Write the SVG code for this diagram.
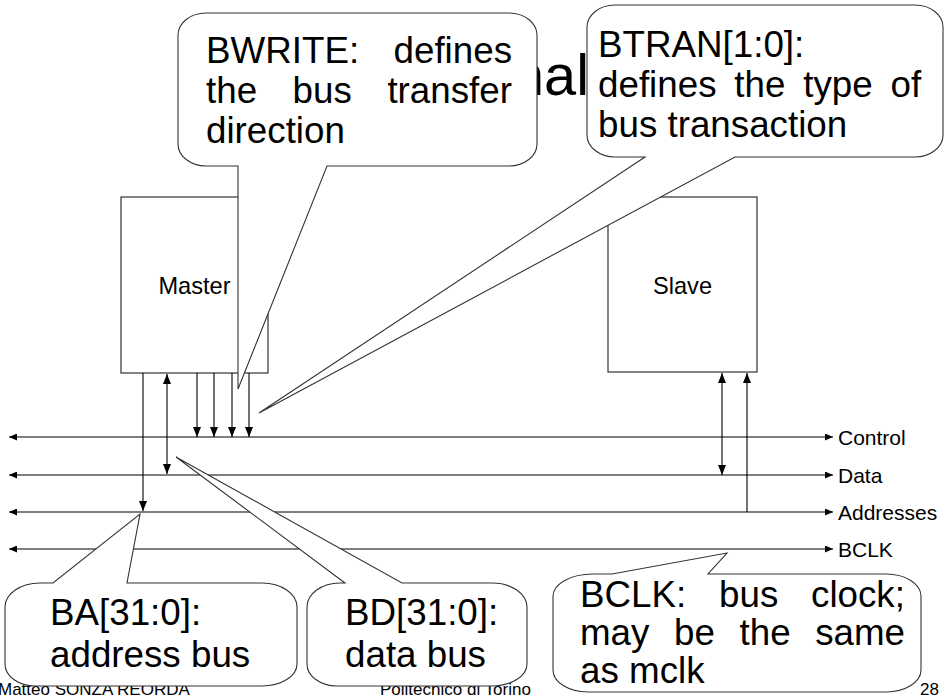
<svg xmlns="http://www.w3.org/2000/svg" width="945" height="697" viewBox="0 0 945 697">
<defs>
<style>
text{font-family:"Liberation Sans",Arial,sans-serif;fill:#000}
.box{fill:#fff;stroke:#333;stroke-width:1.2}
.co{fill:#fff;stroke:#333;stroke-width:1.1}
.ct{font-size:36.75px}
.lbl{font-size:23.6px}
.bus{font-size:21px}
.ft{font-size:17px}
.ln{fill:none;stroke:#000;stroke-width:1.1}
.bl{fill:none;stroke:#555;stroke-width:1.5}
</style>
<marker id="ah" viewBox="0 0 10 8" refX="10" refY="4" markerWidth="10" markerHeight="8" markerUnits="userSpaceOnUse" orient="auto-start-reverse"><path d="M0,0 L10,4 L0,8 z" fill="#000"/></marker>
<marker id="ahs" viewBox="0 0 8 7" refX="8" refY="3.5" markerWidth="8" markerHeight="7" markerUnits="userSpaceOnUse" orient="auto-start-reverse"><path d="M0,0 L8,3.5 L0,7 z" fill="#000"/></marker>
</defs>
<rect width="945" height="697" fill="#fff"/>
<text id="title" x="512" y="95" style="font-size:57.7px">nal</text>
<g id="footer">
<text class="ft" x="-2" y="695">Matteo SONZA REORDA</text>
<text class="ft" x="380" y="695">Politecnico di Torino</text>
<text class="ft" x="920" y="695">28</text>
</g>
<g id="master"><rect class="box" x="121" y="197" width="147" height="176"/><text class="lbl" x="194.5" y="294" text-anchor="middle">Master</text></g>
<g id="slave"><rect class="box" x="608" y="197" width="149" height="175"/><text class="lbl" x="682.5" y="294" text-anchor="middle">Slave</text></g>
<g id="connectors">
<line class="bl" x1="9" y1="437" x2="833" y2="437" marker-start="url(#ahs)" marker-end="url(#ahs)"/>
<line class="bl" x1="9" y1="475" x2="833" y2="475" marker-start="url(#ahs)" marker-end="url(#ahs)"/>
<line class="bl" x1="9" y1="512" x2="833" y2="512" marker-start="url(#ahs)" marker-end="url(#ahs)"/>
<line class="bl" x1="9" y1="549" x2="833" y2="549" marker-start="url(#ahs)" marker-end="url(#ahs)"/>
<line class="ln" x1="143" y1="373" x2="143" y2="511" marker-end="url(#ah)"/>
<line class="ln" x1="167" y1="374" x2="167" y2="474" marker-start="url(#ah)" marker-end="url(#ah)"/>
<line class="ln" x1="197" y1="373" x2="197" y2="437" marker-end="url(#ah)"/>
<line class="ln" x1="214" y1="373" x2="214" y2="437" marker-end="url(#ah)"/>
<line class="ln" x1="232" y1="373" x2="232" y2="437" marker-end="url(#ah)"/>
<line class="ln" x1="249" y1="373" x2="249" y2="437" marker-end="url(#ah)"/>
<line class="ln" x1="722" y1="373" x2="722" y2="475" marker-start="url(#ah)" marker-end="url(#ah)"/>
<line class="ln" x1="747" y1="512" x2="747" y2="373" marker-end="url(#ah)"/>
</g>
<g id="buslabels">
<text class="bus" x="838" y="444.5">Control</text>
<text class="bus" x="838" y="482.5">Data</text>
<text class="bus" x="838" y="519.5">Addresses</text>
<text class="bus" x="838" y="556.5">BCLK</text>
</g>
<g id="bwrite">
<path class="co" d="M206,13 H509 A28,22 0 0 1 537,35 V144 A28,22 0 0 1 509,166 H327 L238,389 L238,166 H206 A28,22 0 0 1 178,144 V35 A28,22 0 0 1 206,13 Z"/>
<text class="ct" y="63"><tspan x="206">BWRITE:</tspan><tspan x="393.5">defines</tspan></text>
<text class="ct" y="103"><tspan x="206">the</tspan><tspan x="292.6">bus</tspan><tspan x="387.4">transfer</tspan></text>
<text class="ct" x="206" y="143">direction</text>
</g>
<g id="btran">
<path class="co" d="M615,5 H915 A28,22 0 0 1 943,27 V135 A28,22 0 0 1 915,157 H735 L259,413 L645,157 H615 A28,22 0 0 1 587,135 V27 A28,22 0 0 1 615,5 Z"/>
<text class="ct" x="598" y="57">BTRAN[1:0]:</text>
<text class="ct" y="97"><tspan x="598">defines</tspan><tspan x="734.3">the</tspan><tspan x="803.2">type</tspan><tspan x="890.5">of</tspan></text>
<text class="ct" x="598" y="137">bus transaction</text>
</g>
<g id="ba">
<path class="co" d="M40,583 H53 L140,514 L127,583 H262 A35,24 0 0 1 297,607 V664 A35,22 0 0 1 262,686 H35 A30,22 0 0 1 5,664 V607 A35,24 0 0 1 40,583 Z"/>
<text class="ct" x="50" y="625">BA[31:0]:</text>
<text class="ct" x="50" y="667">address bus</text>
</g>
<g id="bd">
<path class="co" d="M340,583 H345 L176,457 L402,583 H492 A35,24 0 0 1 527,607 V664 A35,22 0 0 1 492,686 H337 A30,22 0 0 1 307,664 V607 A33,24 0 0 1 340,583 Z"/>
<text class="ct" x="345" y="625">BD[31:0]:</text>
<text class="ct" x="345" y="667">data bus</text>
</g>
<g id="bclk">
<path class="co" d="M593,574 H612 L727,553 L708,574 H886 A35,22 0 0 1 921,596 V670 A35,22 0 0 1 886,692 H588 A35,22 0 0 1 553,670 V596 A40,22 0 0 1 593,574 Z"/>
<text class="ct" y="607"><tspan x="580">BCLK:</tspan><tspan x="719">bus</tspan><tspan x="811">clock;</tspan></text>
<text class="ct" y="645"><tspan x="580">may</tspan><tspan x="674">be</tspan><tspan x="739.5">the</tspan><tspan x="815.2">same</tspan></text>
<text class="ct" x="580" y="683">as mclk</text>
</g>
</svg>
